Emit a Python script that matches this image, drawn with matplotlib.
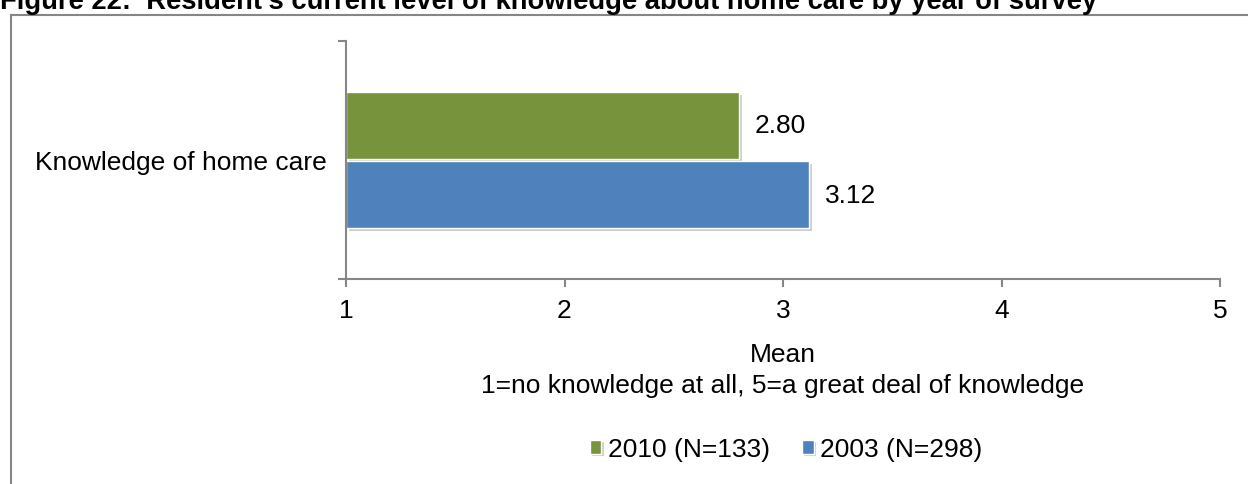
import matplotlib.pyplot as plt
from matplotlib.lines import Line2D
import matplotlib.patheffects as pe

plt.rcParams['font.family'] = ['Liberation Sans', 'DejaVu Sans']

category = "Knowledge of home care"
series = ["2010 (N=133)", "2003 (N=298)"]
means = [2.80, 3.12]
colors = ["#77933C", "#4F81BD"]
offsets = [0.145, -0.145]

fig = plt.figure(figsize=(12.48, 4.85), dpi=100)
ax = fig.add_axes([346/1248, 1 - 280/485, (1220 - 346)/1248, (280 - 42)/485])

shadow = [pe.SimplePatchShadow(offset=(2, -2), shadow_rgbFace='#b0b0b0', alpha=0.6), pe.Normal()]
for val, col, off, name in zip(means, colors, offsets, series):
    ax.barh(off, val - 1, left=1, height=0.28, color=col, edgecolor='white',
            linewidth=1.0, label=name, path_effects=shadow)
    ax.text(val + 0.07, off, f"{val:.2f}", va='center', ha='left', fontsize=19)

ax.set_xlim(1, 5)
ax.set_ylim(-0.5, 0.5)
ax.set_xticks([1, 2, 3, 4, 5])
ax.set_xticklabels(["1", "2", "3", "4", "5"], fontsize=19)
ax.set_yticks([-0.5, 0.5])
ax.set_yticklabels([])
ax.set_yticks([0], minor=True)
ax.set_yticklabels([category], minor=True, fontsize=19)
ax.tick_params(axis='y', which='minor', length=0, pad=14)
ax.tick_params(axis='both', which='major', length=6, color='#868686', width=1.5)
ax.tick_params(axis='x', pad=8)

for s in ['top', 'right']:
    ax.spines[s].set_visible(False)
for s in ['left', 'bottom']:
    ax.spines[s].set_color('#868686')
    ax.spines[s].set_linewidth(1.5)

ax.set_xlabel("Mean\n1=no knowledge at all, 5=a great deal of knowledge", fontsize=19,
              labelpad=14, linespacing=1.35)

fig.legend(loc='center', bbox_to_anchor=(786/1248, 1 - 450/485), ncol=2, frameon=False,
           fontsize=19, handlelength=0.45, handleheight=0.45, handletextpad=0.25, columnspacing=1.2)

# outer frame of the figure box
fig.add_artist(Line2D([11/1248, 11/1248], [0, 1 - 16/485], color='#868686', lw=1.5))
fig.add_artist(Line2D([11/1248, 1], [1 - 16/485, 1 - 16/485], color='#868686', lw=1.5))

fig.text(0.0, 1 - 9/485, "Figure 22:  Resident's current level of knowledge about home care by year of survey",
         fontsize=19.7, fontweight='bold', va='baseline', ha='left')

fig.savefig("out.png", dpi=100)
